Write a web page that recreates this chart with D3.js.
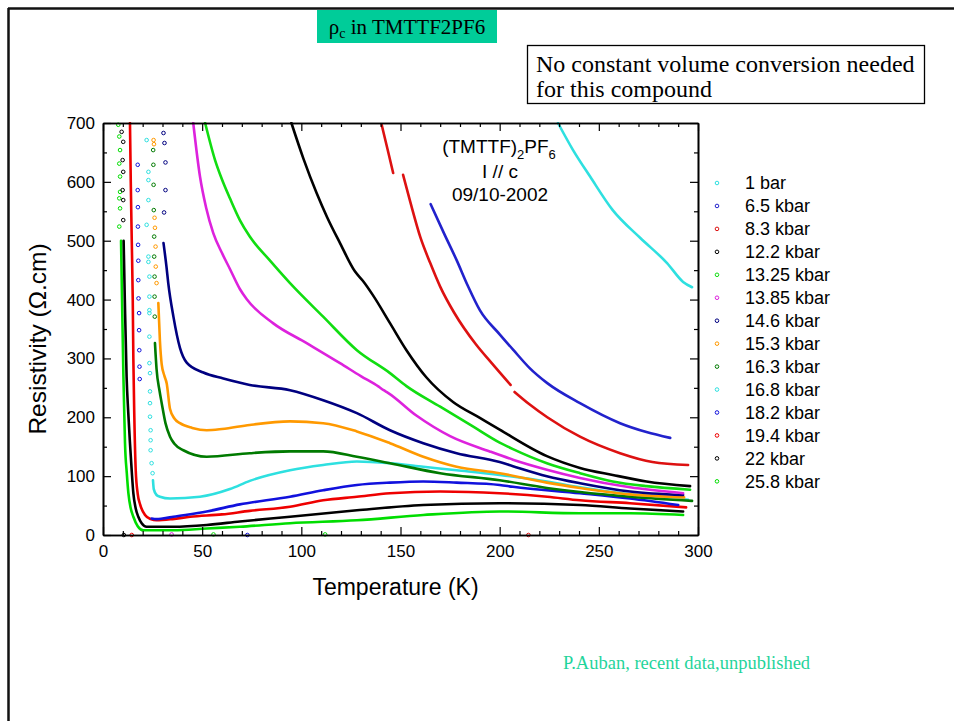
<!DOCTYPE html>
<html>
<head>
<meta charset="utf-8">
<script src="https://cdn.jsdelivr.net/npm/d3@7"></script>
<style>
body{margin:0;background:#fff;}
svg{display:block;}
</style>
</head>
<body>
<svg id="slide" width="954" height="721"></svg>
<script>

var tempTicks = [0, 50, 100, 150, 200, 250, 300];
var rhoTicks = [0, 100, 200, 300, 400, 500, 600, 700];

var pressureLabels = ["1 bar", "6.5 kbar", "8.3 kbar", "12.2 kbar", "13.25 kbar", "13.85 kbar", "14.6 kbar",
	"15.3 kbar", "16.3 kbar", "16.8 kbar", "18.2 kbar", "19.4 kbar", "22 kbar", "25.8 kbar"];

var seriesColors = ["#2ee0e0", "#2222cc", "#dd1111", "#000000", "#11dd11", "#dd22dd", "#000080",
	"#ff9900", "#007a00", "#2ee0e0", "#1111dd", "#ee0000", "#000000", "#00dd00"];

// [temperature K, resistivity ohm.cm], null = gap in the run
var curve1bar = [[229.4,700],[237,654],[245.6,609],[257,552],[270.8,505],[284.4,462],[292.5,430],[297,421]];
var curve6p5 = [[165.2,562],[172,512],[178.3,467],[184,423],[190,382],[200,341],[207,314],[215,284],[224,258],
	[240.5,224],[260.7,190],[274,175],[286,165]];
var curve8p3 = [[140.5,697],[143.5,655],[146.3,615],null,[151.3,612],[155,565],[160,506],[165,462],[170,422],[177,378],
	[188,324],[196,292],[205.5,255],null,[207.5,243],[215,222],[224,200],[240.5,167],[260.7,139],[277,124],[295,119]];
var curve12p2 = [[95,700],[101,640],[107.7,581],[113,540],[119.5,496],[127,448],[131,432],[136,408],[144.7,360],
	[153,314],[163,268],[176.5,226],[190,199],[200,179],[223.8,134],[240.5,114],[257,102],[274,91],[296,83]];
var curve13p25 = [[51.5,700],[56.5,637],[60,604],[64,572],[69,535],[74,507],[84,467],[94.3,428],[111,371],[128,314],
	[144.7,275],[153,253],[170,218],[186.7,184],[200,157],[206.7,146],[223.8,122],[240.5,105],[257,91],[274,83],[296,77]];
var curve13p85 = [[45.5,700],[48.9,609],[52,556],[55.6,513],[60,479],[64,452],[69,418],[72.4,401],[85.7,360],
	[102.7,326],[119.5,292],[130,270],[139,252],[141.5,246],[143.5,242],[158,203],[175,168],[195,142],[206.7,128],
	[223.8,111],[240.5,97],[265.7,81],[292.5,71]];
var curve14p6 = [[30.5,496],[32,456],[32.9,428],[35.5,371],[38.8,318],[42.2,293],[50.6,276],[60.7,266],[74,255],
	[94.3,246],[111,229],[128,207],[144.7,178],[161.5,156],[178.3,139],[200,124],[206.7,117],[223.8,100],[240.5,88],
	[265.7,74],[292.5,68]];
var curve15p3 = [[27.9,394],[28.7,330],[29.6,290],[31,270],[32.1,258],[33.8,214],[36,198],[38.8,190],[45,182],
	[52.3,178],[60,180],[74,187],[94.3,193],[111,190],[128,176],[144.7,156],[161.5,133],[178.3,116],[200,105],
	[223.8,89],[240.5,80],[265.7,69],[293,64]];
var curve16p3 = [[26.2,326],[27,282],[28.5,245],[29.6,224],[31.5,190],[33.8,167],[36,155],[40.5,144],[52.3,133],
	[74,139],[94.3,142],[111,142],[128,133],[144.7,122],[170,105],[200,93],[223.8,80],[240.5,73],[265.7,65],[297,58]];
var curve16p8 = [[25.2,93],[25.6,78],[27,68],[28.7,65],[33.8,62],[48.9,65],[64,78],[74,92],[94.3,110],[111,119],
	[128,125],[144.7,122],[161.5,116],[178.3,110],[200,102],[223.8,91],[240.5,81],[265.7,69],[295,60]];
var curve18p2 = [[24.5,28],[27,27],[30,28],[35.5,31],[52.3,40],[69,52],[94.3,65],[111,76],[128,85],[144.7,89],
	[161.5,91],[178.3,89],[200,85],[206.7,82],[240.5,71],[265.7,62],[290,51]];
var curve19p4 = [[13.6,700],[14,600],[14.5,500],[15,400],[15.3,300],[15.8,200],[16.5,110],[17.5,70],[18.7,52],
	[21.2,34],[24,27],[27,25],[35,27],[43.9,31],[60,35],[74,41],[94.3,48],[111,59],[128,65],[144.7,71],[170,74],
	[200,71],[224,65],[240.5,59],[265.7,54],[294,47]];
var curve22 = [[10.4,500],[11,400],[11.9,269],[12.7,210],[13.6,156],[14.5,108],[15.3,71],[16.5,45],[17.8,31],[19.5,20],
	[22,14],[35.5,14],[52.3,17],[69,23],[94.3,31],[128,42],[161.5,51],[200,54],[240.5,51],[265.7,45],[292.5,40]];
var curve25p8 = [[9.1,500],[9.6,400],[10.3,269],[10.7,210],[11.1,156],[12,105],[12.8,71],[14,45],[15.3,31],[17.5,15],
	[20.3,8],[35.5,8],[52.3,11],[69,14],[94.3,20],[128,25],[161.5,34],[200,40],[240.5,37],[265.7,37],[292.5,34]];

// loose points (upturn at low T and a few strays on the axis)
var sparse8p3 = [[214.5,0]];
var sparse13p25 = [[55.7,1]];
var sparse13p85 = [[34.6,1]];
var sparse14p6 = [[30.5,683],[31,666],[31.5,633],[31.5,586],[30.8,548]];
var sparse15p3 = [[25.5,671],[25.7,664],[26,539],[26.2,522],[26.5,490],[26.6,456],[27,428]];
var sparse16p3 = [[25.3,654],[25.4,629],[25.5,595],[25.6,552],[25.8,507],[25.8,473],[26,439],[26,405],[26.1,371]];
var sparse16p8 = [[22,671],[22.9,617],[22.9,603],[22.9,569],[22,527],[22.9,473],[22.9,464],[23.4,439],[23.4,405],
	[23.4,382],[23.4,377],[23.4,337],[23.4,292],[23.7,275],[23.7,244],[23.7,224],[23.7,201],[24,178],[24,161],
	[24,144],[24.5,122],[25,105]];
var sparse18p2 = [[17.5,629],[17.5,586],[17.6,557],[17.6,524],[17.7,493],[17.8,466],[17.8,433],[17.9,402],[18.2,377],
	[18.2,348],[18.3,314],[18.4,286],[18.5,265],[72.8,0]];
var sparse19p4 = [[14.5,0]];
var sparse22 = [[9.4,685],[10.2,668],[9.9,637],[10.2,617],[9.9,586],[10.2,569],[10.2,535],[10.5,0]];
var sparse25p8 = [[7.7,697],[8.2,677],[8.6,654],[8.2,631],[8.6,609],[8.6,583],[8.2,572],[8.6,555],[8.2,524],[112,1]];

var curves = [curve1bar, curve6p5, curve8p3, curve12p2, curve13p25, curve13p85, curve14p6,
	curve15p3, curve16p3, curve16p8, curve18p2, curve19p4, curve22, curve25p8];
var sparsePoints = [[], [], sparse8p3, [], sparse13p25, sparse13p85, sparse14p6,
	sparse15p3, sparse16p3, sparse16p8, sparse18p2, sparse19p4, sparse22, sparse25p8];

var svg = d3.select("#slide");
var x = d3.scaleLinear().domain([0, 300]).range([103, 698]);
var y = d3.scaleLinear().domain([0, 700]).range([535, 123]);

var sansFont = "'Liberation Sans', Arial, sans-serif";
var serifFont = "'Liberation Serif', 'Times New Roman', serif";

drawFrame();
drawCurves();
drawAxes();
drawLegend();
drawNotes();


function drawFrame(){
	svg.append("line")
		.attr("x1", 8).attr("y1", 8.5).attr("x2", 954).attr("y2", 8.5)
		.attr("stroke", "#111").attr("stroke-width", 2.5);
	svg.append("line")
		.attr("x1", 8.5).attr("y1", 8).attr("x2", 8.5).attr("y2", 721)
		.attr("stroke", "#111").attr("stroke-width", 2.5);

	svg.append("rect")
		.attr("x", 317).attr("y", 10).attr("width", 180).attr("height", 33)
		.attr("fill", "#00cc99");

	var title = svg.append("text")
		.attr("x", 407).attr("y", 34)
		.attr("text-anchor", "middle")
		.attr("font-family", serifFont)
		.attr("font-size", 21)
		.attr("fill", "#000");
	title.append("tspan").text("\u03c1");
	title.append("tspan").attr("font-size", 14).attr("dy", 4).text("c");
	title.append("tspan").attr("dy", -4).text(" in TMTTF2PF6");

	svg.append("rect")
		.attr("x", 527.5).attr("y", 45.5).attr("width", 397).attr("height", 58)
		.attr("fill", "none").attr("stroke", "#000").attr("stroke-width", 1.3);

	svg.append("text")
		.attr("x", 536).attr("y", 72)
		.attr("font-family", serifFont).attr("font-size", 24)
		.text("No constant volume conversion needed");
	svg.append("text")
		.attr("x", 536).attr("y", 97)
		.attr("font-family", serifFont).attr("font-size", 24)
		.text("for this compound");

	svg.append("text")
		.attr("x", 563).attr("y", 669)
		.attr("font-family", serifFont).attr("font-size", 18.5)
		.attr("fill", "#1fd49b")
		.text("P.Auban, recent data,unpublished");
}


function drawCurves(){
	svg.append("clipPath").attr("id", "plotClip")
		.append("rect")
		.attr("x", x(0)).attr("y", y(700) - 1)
		.attr("width", x(300) - x(0)).attr("height", y(0) - y(700) + 4);

	var plotGroup = svg.append("g").attr("clip-path", "url(#plotClip)");

	var lineGen = d3.line()
		.defined(function (d) { return d !== null; })
		.x(function (d) { return x(d[0]); })
		.y(function (d) { return y(d[1]); })
		.curve(d3.curveMonotoneX);

	// high pressure first, low pressure curves end up on top
	for (var i = curves.length - 1; i >= 0; i--){
		plotGroup.append("path")
			.datum(curves[i])
			.attr("d", lineGen)
			.attr("fill", "none")
			.attr("stroke", seriesColors[i])
			.attr("stroke-width", 2.6)
			.attr("stroke-linejoin", "round")
			.attr("stroke-linecap", "round")
			.attr("id", "curve_" + i);

		plotGroup.append("g")
			.attr("id", "loose_" + i)
			.selectAll("circle")
			.data(sparsePoints[i])
			.enter()
			.append("circle")
			.attr("cx", function (d) { return x(d[0]); })
			.attr("cy", function (d) { return y(d[1]); })
			.attr("r", 1.8)
			.attr("fill", "none")
			.attr("stroke", seriesColors[i])
			.attr("stroke-width", 1);
	}
}


function drawAxes(){
	var minorX = d3.range(0, 301, 10).filter(function (v) { return v % 50 != 0; });
	var minorY = d3.range(50, 700, 100);

	var bottom = svg.append("g")
		.attr("transform", "translate(0," + y(0) + ")")
		.call(d3.axisBottom(x).tickValues(tempTicks).tickSize(-8).tickSizeOuter(0).tickPadding(10).tickFormat(d3.format("d")));
	bottom.append("g")
		.call(d3.axisBottom(x).tickValues(minorX).tickSize(-4).tickSizeOuter(0).tickFormat(""));

	var top = svg.append("g")
		.attr("transform", "translate(0," + y(700) + ")")
		.call(d3.axisTop(x).tickValues(tempTicks).tickSize(-8).tickSizeOuter(0).tickFormat(""));
	top.append("g")
		.call(d3.axisTop(x).tickValues(minorX).tickSize(-4).tickSizeOuter(0).tickFormat(""));

	var left = svg.append("g")
		.attr("transform", "translate(" + x(0) + ",0)")
		.call(d3.axisLeft(y).tickValues(rhoTicks).tickSize(-8).tickSizeOuter(0).tickPadding(8).tickFormat(d3.format("d")));
	left.append("g")
		.call(d3.axisLeft(y).tickValues(minorY).tickSize(-4).tickSizeOuter(0).tickFormat(""));

	var right = svg.append("g")
		.attr("transform", "translate(" + x(300) + ",0)")
		.call(d3.axisRight(y).tickValues(rhoTicks).tickSize(-8).tickSizeOuter(0).tickFormat(""));
	right.append("g")
		.call(d3.axisRight(y).tickValues(minorY).tickSize(-4).tickSizeOuter(0).tickFormat(""));

	svg.selectAll(".domain").attr("stroke", "#000").attr("stroke-width", 1.6);
	svg.selectAll(".tick line").attr("stroke", "#000").attr("stroke-width", 1.2);
	svg.selectAll(".tick text")
		.attr("font-family", sansFont)
		.attr("font-size", 17)
		.attr("fill", "#000");

	svg.append("text")
		.attr("x", (x(0) + x(300)) / 2 - 5).attr("y", 595)
		.attr("text-anchor", "middle")
		.attr("font-family", sansFont).attr("font-size", 23)
		.text("Temperature (K)");

	svg.append("text")
		.attr("transform", "translate(46,339) rotate(-90)")
		.attr("text-anchor", "middle")
		.attr("font-family", sansFont).attr("font-size", 24.5)
		.text("Resistivity (\u03a9.cm)");
}


function drawLegend(){
	var legend = svg.append("g").attr("id", "legend");

	var rows = legend.selectAll("g")
		.data(pressureLabels)
		.enter()
		.append("g")
		.attr("transform", function (d, i) { return "translate(0," + (183 + i * 22.95) + ")"; });

	rows.append("circle")
		.attr("cx", 717).attr("cy", 0).attr("r", 1.8)
		.attr("fill", "none")
		.attr("stroke", function (d, i) { return seriesColors[i]; })
		.attr("stroke-width", 1);

	rows.append("text")
		.attr("x", 745).attr("y", 0).attr("dy", "0.36em")
		.attr("font-family", sansFont).attr("font-size", 18)
		.text(function (d) { return d; });
}


function drawNotes(){
	var label = svg.append("text")
		.attr("x", 499).attr("y", 153)
		.attr("text-anchor", "middle")
		.attr("font-family", sansFont).attr("font-size", 19);
	label.append("tspan").text("(TMTTF)");
	label.append("tspan").attr("font-size", 13).attr("dy", 6).text("2");
	label.append("tspan").attr("dy", -6).text("PF");
	label.append("tspan").attr("font-size", 13).attr("dy", 6).text("6");

	svg.append("text")
		.attr("x", 500).attr("y", 178)
		.attr("text-anchor", "middle")
		.attr("font-family", sansFont).attr("font-size", 19)
		.text("I // c");

	svg.append("text")
		.attr("x", 500).attr("y", 201)
		.attr("text-anchor", "middle")
		.attr("font-family", sansFont).attr("font-size", 19)
		.text("09/10-2002");
}

</script>
</body>
</html>
